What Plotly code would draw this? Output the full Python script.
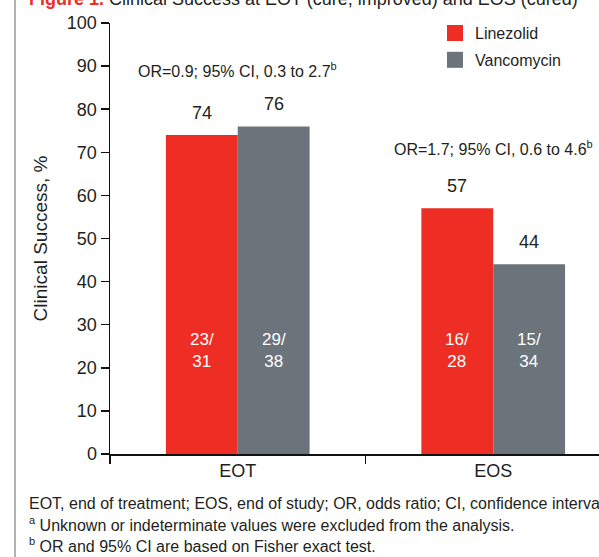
import plotly.graph_objects as go

categories = ["EOT", "EOS"]
series_names = ["Linezolid", "Vancomycin"]
linezolid = [74, 57]
vancomycin = [76, 44]
linezolid_frac = ["23/<br>31", "16/<br>28"]
vancomycin_frac = ["29/<br>38", "15/<br>34"]
or_texts = ["OR=0.9; 95% CI, 0.3 to 2.7<sup><span style='font-size:11px'>b</span></sup>",
            "OR=1.7; 95% CI, 0.6 to 4.6<sup><span style='font-size:11px'>b</span></sup>"]
or_y = [89, 71]
y_ticks = [0, 10, 20, 30, 40, 50, 60, 70, 80, 90, 100]
footnotes = [
    "EOT, end of treatment; EOS, end of study; OR, odds ratio; CI, confidence interval.",
    "<sup><span style='font-size:11px'>a</span></sup> Unknown or indeterminate values were excluded from the analysis.",
    "<sup><span style='font-size:11px'>b</span></sup> OR and 95% CI are based on Fisher exact test.",
]

RED = "#EE2D24"
GRAY = "#6B747A"
FONT = "Liberation Sans, Arial, Helvetica, sans-serif"
TXT = "#231F20"

fig = go.Figure()
fig.add_trace(go.Bar(x=categories, y=linezolid, name=series_names[0], marker_color=RED,
                     marker_line_width=0, showlegend=False))
fig.add_trace(go.Bar(x=categories, y=vancomycin, name=series_names[1], marker_color=GRAY,
                     marker_line_width=0, showlegend=False))
# legend-only squares
for nm, col in zip(series_names, [RED, GRAY]):
    fig.add_trace(go.Scatter(x=[None], y=[None], mode="markers", name=nm, legendgroup=nm,
                             marker=dict(symbol="square", size=16, color=col)))

annotations = []
nb = 2
bw = 0.5625 / nb
for s, (vals, fracs) in enumerate([(linezolid, linezolid_frac), (vancomycin, vancomycin_frac)]):
    off = (s - 0.5) * bw
    for i, cat in enumerate(categories):
        annotations.append(dict(x=i + off, y=vals[i], xref="x", yref="y", text=str(vals[i]),
                                showarrow=False, yanchor="bottom", yshift=10,
                                font=dict(size=18, color=TXT, family=FONT)))
        annotations.append(dict(x=i + off, y=24, xref="x", yref="y", text=fracs[i],
                                showarrow=False, yanchor="middle",
                                font=dict(size=17, color="white", family=FONT)))

for i, t in enumerate(or_texts):
    annotations.append(dict(x=i, y=or_y[i], xref="x", yref="y", text=t, showarrow=False,
                            font=dict(size=16, color=TXT, family=FONT)))

for k, t in enumerate(footnotes):
    annotations.append(dict(x=(27 - 110) / 489, y=(454 - 503 - 21 * k) / 431, xref="paper", yref="paper",
                            text=t, showarrow=False, xanchor="left", yanchor="middle",
                            font=dict(size=16, color=TXT, family=FONT)))

annotations.append(dict(x=(27 - 110) / 489, y=(454 - 11) / 431, xref="paper", yref="paper",
                        text="<b><span style='color:%s'>Figure 1.</span></b> Clinical Success at EOT (cure, improved) and EOS (cured)" % RED,
                        showarrow=False, xanchor="left", yanchor="bottom",
                        font=dict(size=18, color=TXT, family=FONT)))

fig.update_layout(
    width=599, height=557,
    margin=dict(l=110, r=0, t=23, b=103),
    paper_bgcolor="white", plot_bgcolor="white",
    barmode="group", bargap=0.4375, bargroupgap=0,
    font=dict(family=FONT, size=18, color=TXT),
    showlegend=True,
    legend=dict(x=(435 - 110) / 489, y=1.016, xanchor="left", yanchor="top",
                font=dict(size=16, color=TXT, family=FONT), bgcolor="rgba(0,0,0,0)",
                traceorder="grouped", tracegroupgap=3, itemsizing="trace"),
    annotations=annotations,
    shapes=[dict(type="line", xref="paper", yref="paper", x0=(15 - 110) / 489, x1=(15 - 110) / 489,
                 y0=-0.3, y1=1.1, line=dict(color="#9A9A9A", width=1.5))],
    xaxis=dict(type="category", range=[-0.5, 1.414], showline=True, linecolor="#111", linewidth=1.5,
               ticks="outside", tickson="boundaries", ticklen=8, tickcolor="#111", tickwidth=1.5,
               showgrid=False, zeroline=False, tickfont=dict(size=18, color=TXT), fixedrange=True),
    yaxis=dict(range=[0, 100], tickvals=y_ticks, showline=True, linecolor="#111", linewidth=1.5,
               ticks="outside", ticklen=8, tickcolor="#111", tickwidth=1.5, showgrid=False,
               zeroline=False, tickfont=dict(size=18, color=TXT), fixedrange=True,
               title=dict(text="Clinical Success, %", font=dict(size=19, color=TXT), standoff=14)),
)

fig.write_html("out.html", config={"displayModeBar": False, "staticPlot": True},
               post_script="document.body.style.margin='0px';document.body.style.overflow='hidden';")
